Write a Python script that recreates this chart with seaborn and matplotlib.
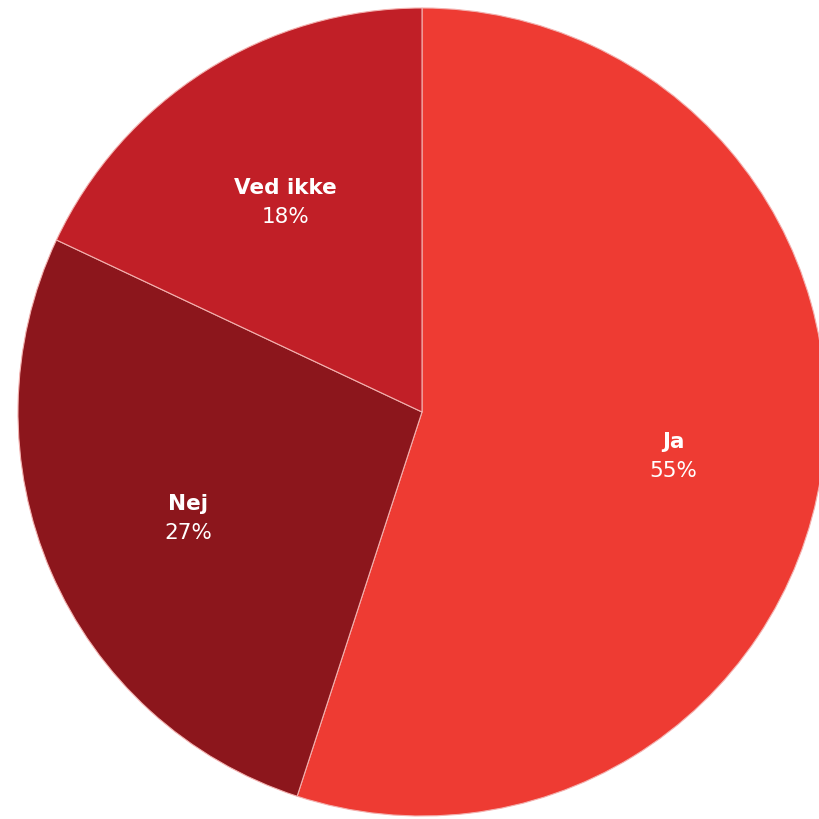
import matplotlib
matplotlib.use("Agg")
import matplotlib.pyplot as plt
import seaborn as sns

categories = ["Ja", "Nej", "Ved ikke"]
values = [55, 27, 18]
colors = ["#EE3B33", "#8C161C", "#C11F27"]

sns.set_theme(style="white")
plt.rcParams['font.family'] = ['DejaVu Sans']

fig = plt.figure(figsize=(8.2, 8.2), dpi=100)
cx, cy, r = 422 / 820, (820 - 413) / 820, 404 / 820
ax = fig.add_axes([cx - r, cy - r, 2 * r, 2 * r])

wedges, texts, autotexts = ax.pie(
    values, labels=categories, colors=colors, startangle=90, counterclock=False,
    labeldistance=0.63, pctdistance=0.63, autopct=lambda p: f"{p:.0f}%",
    wedgeprops=dict(edgecolor="#F3B0AE", linewidth=0.8),
    radius=1.0,
)
for t in texts:
    t.set_color("white")
    t.set_fontsize(15.5)
    t.set_fontweight("semibold")
    t.set_ha("center")
    t.set_va("center")
    x, y = t.get_position()
    t.set_position((x, y + 0.036 - 0.01))
for t in autotexts:
    t.set_color("white")
    t.set_fontsize(15.5)
    t.set_ha("center")
    t.set_va("center")
    x, y = t.get_position()
    t.set_position((x, y - 0.036 - 0.01))

ax.set_xlim(-1, 1)
ax.set_ylim(-1, 1)
ax.set_aspect("equal")
ax.axis("off")
fig.savefig("out.png", dpi=100, facecolor="white")
